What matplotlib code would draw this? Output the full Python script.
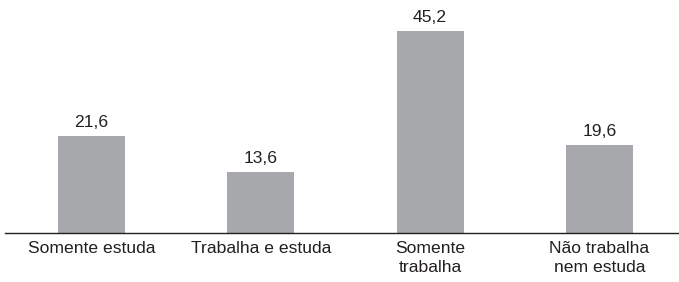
import matplotlib
matplotlib.use("Agg")
import matplotlib.pyplot as plt

# Data (percent)
categories = ["Somente estuda", "Trabalha e estuda", "Somente\ntrabalha", "Não trabalha\nnem estuda"]
values = [21.6, 13.6, 45.2, 19.6]

bar_color = "#a7a8ab"
text_color = "#231f20"

plt.rcParams["font.family"] = ["Liberation Sans", "DejaVu Sans"]

fig = plt.figure(figsize=(6.79, 2.82), dpi=100)
# axes placed in pixel terms: baseline at y=233 from the top, line from x=5 to the right edge
ax = fig.add_axes([5 / 679, 49 / 282, 674 / 679, 233 / 282])

x = range(len(categories))
bars = ax.bar(x, values, width=0.396, color=bar_color)

for rect, v in zip(bars, values):
    ax.annotate(f"{v:.1f}".replace(".", ","),
                (rect.get_x() + rect.get_width() / 2, rect.get_height()),
                xytext=(0, 6.5), textcoords="offset points",
                ha="center", va="baseline", fontsize=12.6, color=text_color)

ax.set_xlim(-0.51, 3.47)
ax.set_ylim(0, 52.1)

ax.set_xticks(list(x))
ax.set_xticklabels(categories, fontsize=12.6, color=text_color, linespacing=1.4)
ax.tick_params(axis="x", length=0, pad=5.5)
ax.set_yticks([])

for side in ["top", "right", "left"]:
    ax.spines[side].set_visible(False)
ax.spines["bottom"].set_color(text_color)
ax.spines["bottom"].set_linewidth(1.0)

fig.savefig("out.png", dpi=100)
